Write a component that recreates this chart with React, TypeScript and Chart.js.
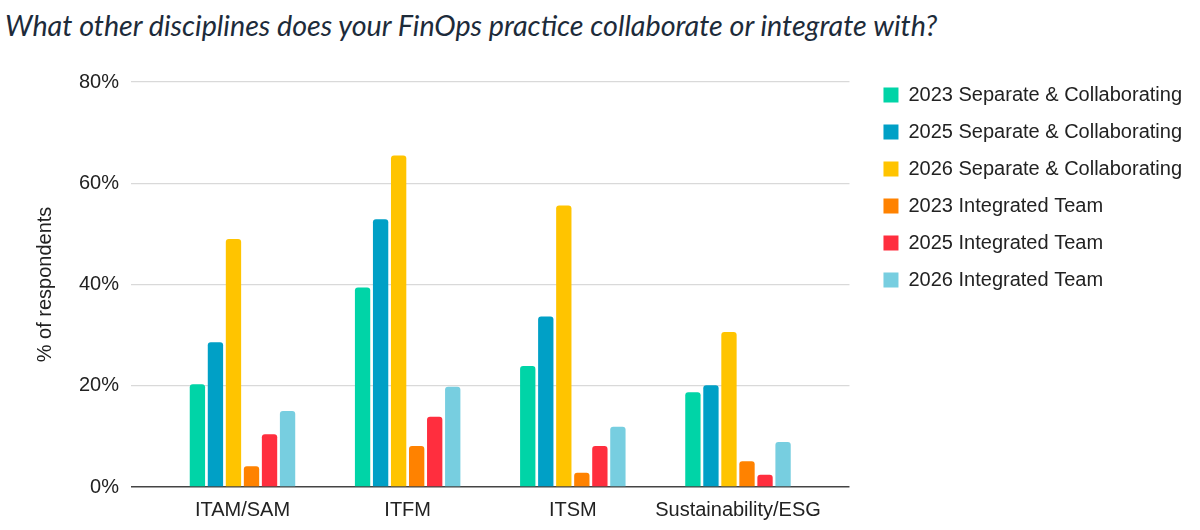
import React, { useEffect, useRef } from 'react';
import { Chart, registerables } from 'chart.js';

Chart.register(...registerables);

const title = 'What other disciplines does your FinOps practice collaborate or integrate with?';
const categories = ['ITAM/SAM', 'ITFM', 'ITSM', 'Sustainability/ESG'];
const seriesNames = [
  '2023 Separate & Collaborating',
  '2025 Separate & Collaborating',
  '2026 Separate & Collaborating',
  '2023 Integrated Team',
  '2025 Integrated Team',
  '2026 Integrated Team',
];
const seriesColors = ['#00D4A7', '#00A0C6', '#FFC400', '#FF8200', '#FF2E3E', '#77CEE0'];

// % of respondents
const sep2023 = [20.3, 39.4, 23.9, 18.7];
const sep2025 = [28.6, 52.9, 33.7, 20.1];
const sep2026 = [49.0, 65.5, 55.6, 30.6];
const int2023 = [4.1, 8.1, 2.8, 5.1];
const int2025 = [10.4, 13.9, 8.1, 2.4];
const int2026 = [15.0, 19.8, 11.9, 8.9];
const seriesValues = [sep2023, sep2025, sep2026, int2023, int2025, int2026];

const yTicks = [0, 20, 40, 60, 80];

const FONT = '"Liberation Sans", Arial, sans-serif';

export default function App() {
  const canvasRef = useRef<HTMLCanvasElement>(null);

  useEffect(() => {
    if (!canvasRef.current) return;
    const ctx = canvasRef.current.getContext('2d');
    if (!ctx) return;

    Chart.defaults.font.family = FONT;
    Chart.defaults.color = '#222';

    const chart = new Chart(ctx, {
      type: 'bar',
      data: {
        datasets: seriesNames.map((name, i) => ({
          label: name,
          data: seriesValues[i].map((v, j) => ({ x: j, y: v })),
          backgroundColor: seriesColors[i],
          borderRadius: { topLeft: 3, topRight: 3, bottomLeft: 0, bottomRight: 0 },
          borderSkipped: 'start',
          categoryPercentage: 0.655,
          barPercentage: 0.85,
        })),
      },
      options: {
        animation: false,
        responsive: true,
        maintainAspectRatio: false,
        layout: { padding: { top: 18, right: 8, bottom: 8, left: 0 } },
        plugins: {
          legend: {
            position: 'right',
            align: 'start',
            maxWidth: 400,
            labels: {
              boxWidth: 15,
              boxHeight: 15,
              padding: 17,
              font: { size: 20 },
              color: '#222',
            },
          },
          tooltip: { enabled: false },
        },
        scales: {
          x: {
            type: 'linear',
            offset: false,
            min: -0.675,
            max: 3.675,
            afterBuildTicks: (axis) => {
              axis.ticks = categories.map((_, i) => ({ value: i }));
            },
            afterFit: (s) => {
              s.height = 35;
            },
            ticks: {
              callback: (v) => categories[Number(v)] ?? '',
              font: { size: 20 },
              color: '#222',
              padding: 11,
              maxRotation: 0,
              autoSkip: false,
            },
            grid: { display: false, drawTicks: false },
            border: { display: false },
          },
          y: {
            min: 0,
            max: 80,
            afterBuildTicks: (axis) => {
              axis.ticks = yTicks.map((v) => ({ value: v }));
            },
            afterFit: (s) => {
              s.width = 131;
            },
            ticks: {
              callback: (v) => v + '%',
              font: { size: 20 },
              color: '#222',
              padding: 12,
            },
            grid: {
              drawTicks: false,
              color: (c) => (c.tick && c.tick.value === 0 ? '#444' : '#d9d9d9'),
              lineWidth: (c) => (c.tick && c.tick.value === 0 ? 1.6 : 1.3),
            },
            border: { display: false },
            title: {
              display: true,
              text: '% of respondents',
              font: { size: 20 },
              color: '#222',
              padding: { top: 33, bottom: 10 },
            },
          },
          padTop: {
            type: 'linear',
            axis: 'x',
            position: 'top',
            offset: false,
            display: true,
            ticks: { display: false },
            grid: { display: false },
            border: { display: false },
            afterFit: (s) => {
              s.height = 14;
            },
          },
          padRight: {
            type: 'linear',
            axis: 'y',
            position: 'right',
            display: true,
            ticks: { display: false },
            grid: { display: false },
            border: { display: false },
            afterFit: (s) => {
              s.width = 17;
            },
          },
        },
      },
    });

    return () => {
      chart.destroy();
    };
  }, []);

  return (
    <div
      style={{
        position: 'fixed',
        left: 0,
        top: 0,
        width: 1200,
        height: 530,
        background: '#fff',
        overflow: 'hidden',
      }}
    >
      <div
        style={{
          position: 'absolute',
          left: 5,
          top: 0,
          height: 50,
          lineHeight: '50px',
          fontFamily: 'Lato, "Open Sans", sans-serif',
          fontStyle: 'italic',
          fontSize: 28.7,
          color: '#1d2b3a',
          whiteSpace: 'nowrap',
        }}
      >
        {title}
      </div>
      <div style={{ position: 'absolute', left: 0, top: 50, width: 1200, height: 480 }}>
        <canvas ref={canvasRef}></canvas>
      </div>
    </div>
  );
}
